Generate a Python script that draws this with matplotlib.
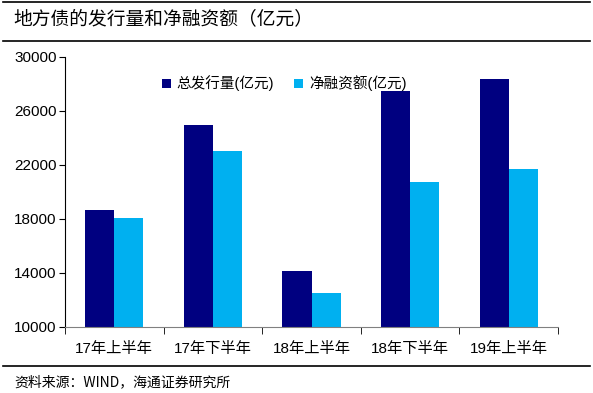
import numpy as np
import matplotlib.pyplot as plt
from matplotlib.lines import Line2D

plt.rcParams['font.family'] = ['Liberation Sans', 'Noto Sans CJK SC', 'DejaVu Sans']

# --- Data ---
categories = ['17年上半年', '17年下半年', '18年上半年', '18年下半年', '19年上半年']
issuance = [18640, 24960, 14150, 27480, 28370]
net_financing = [18050, 23040, 12500, 20760, 21680]
yticks = [10000, 14000, 18000, 22000, 26000, 30000]

# --- Plot ---
fig = plt.figure(figsize=(5.93, 3.93), dpi=100)
ax = fig.add_axes([65 / 593, 1 - 327 / 393, 493 / 593, 270 / 393])

x = np.arange(len(categories))
w = 0.295
ax.bar(x - w / 2, issuance, w, color='#000080', label='总发行量(亿元)', zorder=2)
ax.bar(x + w / 2, net_financing, w, color='#00B0F0', label='净融资额(亿元)', zorder=2)

ax.set_ylim(10000, 30000)
ax.set_xlim(-0.5, len(categories) - 0.5)
ax.set_yticks(yticks)
ax.set_yticklabels([str(v) for v in yticks], fontsize=11)
ax.set_xticks(x)
ax.set_xticklabels(categories, fontsize=11)
ax.tick_params(axis='x', length=0, pad=11)
ax.set_xticks(np.arange(-0.5, len(categories) + 0.5, 1), minor=True)
ax.tick_params(axis='x', which='minor', length=5, direction='out', color='black')
ax.tick_params(axis='y', length=4, direction='out', pad=2)

for s in ['top', 'right']:
    ax.spines[s].set_visible(False)
ax.spines['left'].set_color('black')
ax.spines['bottom'].set_color('#808080')

ax.legend(loc='upper left', bbox_to_anchor=(0.17, 0.98), ncol=2, frameon=False,
          fontsize=10.5, handlelength=0.6, handleheight=0.6, handletextpad=0.4,
          columnspacing=1.4)

# --- Title, rules and source ---
fig.text(0.022, 1 - 19 / 393, '地方债的发行量和净融资额（亿元）', fontsize=13.5,
         va='center', ha='left', family=['Noto Sans CJK SC'])
for yy in [2, 41, 366]:
    fig.add_artist(Line2D([0.005, 0.995], [1 - yy / 393, 1 - yy / 393],
                          color='black', lw=1.2))
fig.text(0.025, 1 - 382 / 393, '资料来源：WIND，海通证券研究所', fontsize=10,
         va='center', ha='left', family=['Noto Sans CJK SC'])

fig.savefig('out.png', dpi=100)
